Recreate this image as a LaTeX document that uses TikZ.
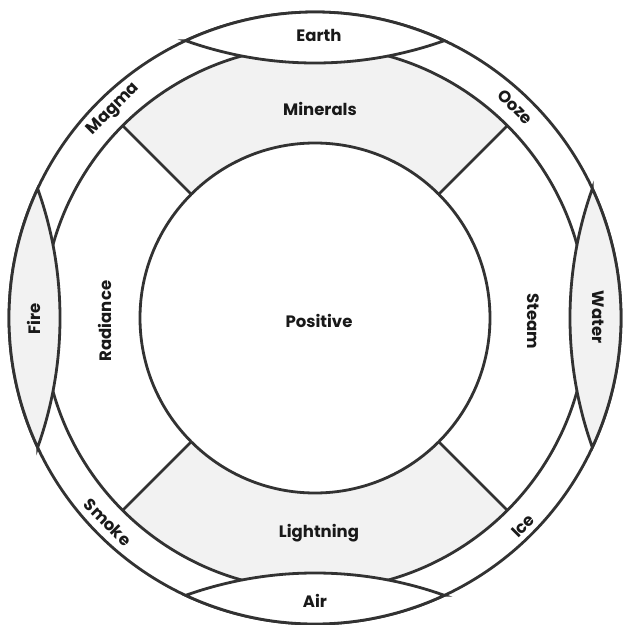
\documentclass[tikz,border=0pt]{standalone}
\usepackage{fontspec}
\setmainfont{Poppins}
\usetikzlibrary{calc}
\definecolor{ink}{RGB}{50,50,50}
\definecolor{haze}{RGB}{242,242,242}
\newcommand{\Rout}{306}
\newcommand{\Rmid}{272}
\newcommand{\Rin}{175}
\tikzset{
  ring/.style={draw=ink,line width=2.8pt},
  zone/.style={fill=haze},
  lbl/.style={font=\fontsize{16.5}{18}\selectfont\bfseries,text=black!90,inner sep=0pt},
}
\begin{document}
\begin{tikzpicture}[x=1pt,y=1pt]
  \useasboundingbox (-315,-306) rectangle (311,318);
  % outer disc
  \filldraw[ring,fill=white] (0,0) circle[radius=\Rout];
  % shaded sectors of the middle ring
  \foreach \a in {45,225}
    \fill[zone] (\a:\Rin) arc[start angle=\a,end angle=\a+90,radius=\Rin]
      -- ({\a+90}:\Rmid) arc[start angle=\a+90,end angle=\a,radius=\Rmid] -- cycle;
  \draw[ring] (0,0) circle[radius=\Rmid];
  \draw[ring] (0,0) circle[radius=\Rin];
  \foreach \a in {45,135,225,315}
    \draw[ring] (\a:\Rin) -- (\a:\Rmid);
  % the four lenses
  \foreach \a/\shade in {90/white,180/haze,270/white,0/haze}
    \filldraw[ring,fill=\shade] ({\a+25}:\Rout)
      arc[start angle=\a+25,end angle=\a-25,radius=\Rout]
      arc[start angle=\a+199.6,end angle=\a+160.4,radius=385.6] -- cycle;
  % labels
  \node[lbl] (positive) at (4,-3) {Positive};
  \node[lbl] (minerals) at (5,209) {Minerals};
  \node[lbl] (lightning) at (4,-215) {Lightning};
  \node[lbl,rotate=90] (radiance) at (-210,-3) {Radiance};
  \node[lbl,rotate=-90] (steam) at (218,-3) {Steam};
  \node[lbl] (earth) at (4,283) {Earth};
  \node[lbl] (air) at (0,-283) {Air};
  \node[lbl,rotate=90] (fire) at (-281,-1) {Fire};
  \node[lbl,rotate=-90] (water) at (283,1) {Water};
  \node[lbl,rotate=45] (magma) at (134:290) {Magma};
  \node[lbl,rotate=-45] (ooze) at (46.5:291) {Ooze};
  \node[lbl,rotate=-45] (smoke) at (224.6:291) {Smoke};
  \node[lbl,rotate=45] (ice) at (-45:294) {Ice};
\end{tikzpicture}
\end{document}
